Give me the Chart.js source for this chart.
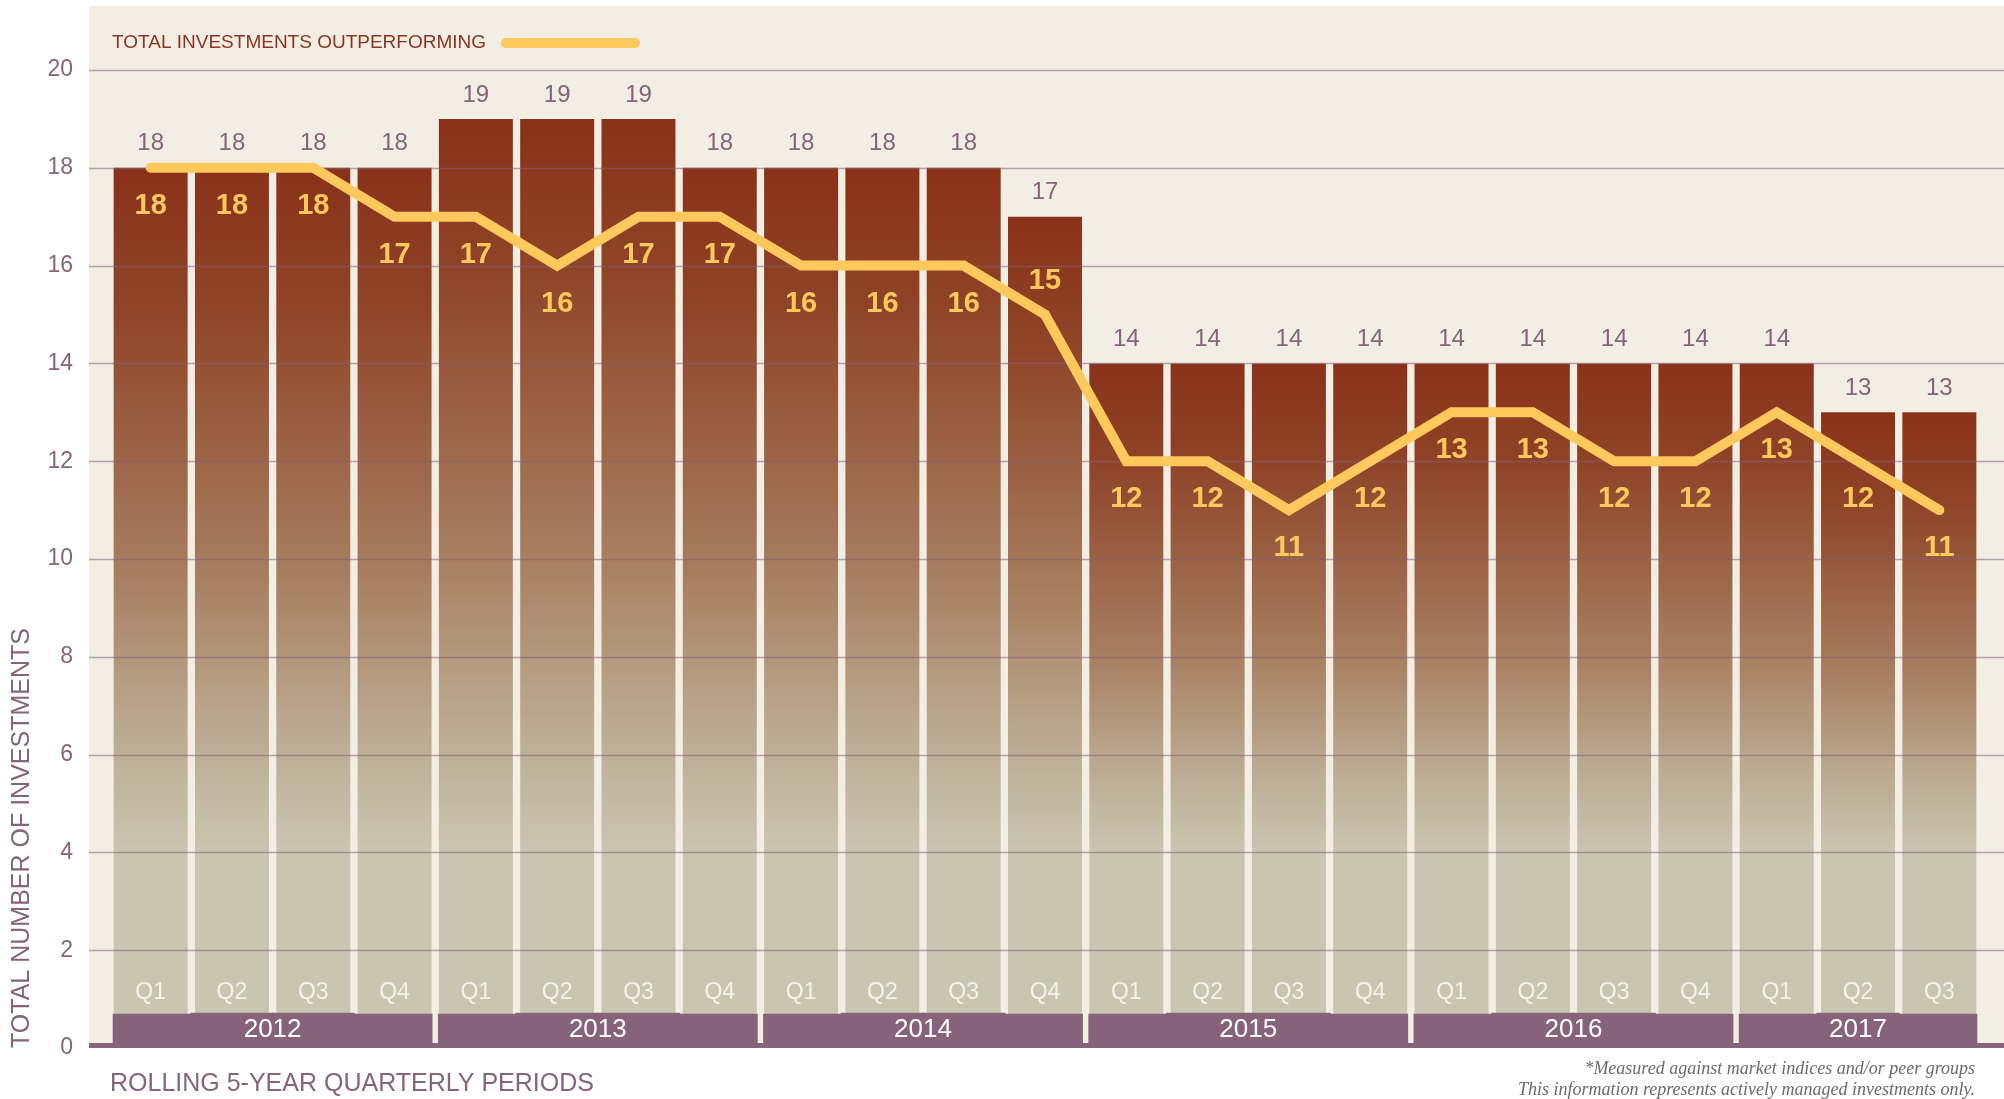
<!DOCTYPE html>
<html>
<head>
<meta charset="utf-8">
<title>Total Investments Outperforming</title>
<script src="https://cdn.jsdelivr.net/npm/chart.js@4.4.1/dist/chart.umd.min.js"></script>
<style>
    html, body { margin: 0; padding: 0; background: #ffffff; }
    #wrap { width: 2004px; height: 1099px; }
</style>
</head>
<body>
<div id="wrap"><canvas id="perfChart" width="2004" height="1099"></canvas></div>
<script>
// Chart data
const quarters = ['Q1', 'Q2', 'Q3', 'Q4', 'Q1', 'Q2', 'Q3', 'Q4', 'Q1', 'Q2', 'Q3', 'Q4',
                  'Q1', 'Q2', 'Q3', 'Q4', 'Q1', 'Q2', 'Q3', 'Q4', 'Q1', 'Q2', 'Q3'];
const years = ['2012', '2013', '2014', '2015', '2016', '2017'];
const quartersPerYear = [4, 4, 4, 4, 4, 3];
const totalInvestments = [18, 18, 18, 18, 19, 19, 19, 18, 18, 18, 18, 17,
                          14, 14, 14, 14, 14, 14, 14, 14, 14, 13, 13];
const outperforming = [18, 18, 18, 17, 17, 16, 17, 17, 16, 16, 16, 15,
                       12, 12, 11, 12, 13, 13, 12, 12, 13, 12, 11];
const yTicks = [0, 2, 4, 6, 8, 10, 12, 14, 16, 18, 20];

// Colours / fonts
const CREAM = '#f3eee4';
const PURPLE = '#86637a';
const LABEL_PURPLE = '#86647c';
const YELLOW = '#fdc95c';
const RUST = '#8b3520';
const FONT = '"Liberation Sans", Arial, sans-serif';
const BAND_TOP = 0.7; // height of the year strip in axis units

// Year strip bars: one floating bar per quarter
const yearBand = quarters.map(() => [0, BAND_TOP]);
const firstOfYear = [];
const lastOfYear = [];
let q = 0;
quartersPerYear.forEach(n => { firstOfYear.push(q); lastOfYear.push(q + n - 1); q += n; });

// Each bar fades from rust at its top to grey-beige near the bottom
function barGradient(ctx) {
    const chart = ctx.chart;
    const y = chart.scales.y;
    if (!y || ctx.type !== 'data' || typeof ctx.raw !== 'number') return '#8a3219';
    const top = y.getPixelForValue(ctx.raw);
    const bottom = y.getPixelForValue(4);
    if (!isFinite(top) || !isFinite(bottom) || bottom <= top) return '#8a3219';
    const g = chart.ctx.createLinearGradient(0, top, 0, bottom);
    g.addColorStop(0, '#8a3219');
    g.addColorStop(0.2, '#8f4327');
    g.addColorStop(0.4, '#9b6143');
    g.addColorStop(0.6, '#a87f61');
    g.addColorStop(0.8, '#b9a68c');
    g.addColorStop(1, '#cac5b1');
    return g;
}

// Cream panel behind the chart
const panelPlugin = {
    id: 'panel',
    beforeDraw(chart) {
        const c = chart.ctx;
        const y = chart.scales.y;
        c.save();
        c.fillStyle = '#ffffff';
        c.fillRect(0, 0, chart.width, chart.height);
        c.fillStyle = CREAM;
        const left = 89;
        c.fillRect(left, 6, chart.width - left, y.getPixelForValue(0) - 6);
        c.restore();
    }
};

// Grid lines over the bars, under the year strip and the line
const gridPlugin = {
    id: 'gridOver',
    afterDatasetDraw(chart, args) {
        if (args.index !== 0) return;
        const c = chart.ctx;
        const y = chart.scales.y;
        c.save();
        yTicks.forEach(v => {
            if (v === 0) return;
            const py = Math.round(y.getPixelForValue(v)) + 0.5;
            c.strokeStyle = 'rgba(135, 95, 120, 0.55)';
            c.lineWidth = 1.5;
            c.beginPath();
            c.moveTo(89, py);
            c.lineTo(chart.width, py);
            c.stroke();
        });
        c.restore();
    }
};

// Value labels, quarter / year labels, axis base line, legend and footnote
const labelPlugin = {
    id: 'labels',
    afterDatasetsDraw(chart) {
        const c = chart.ctx;
        const y = chart.scales.y;
        const bars = chart.getDatasetMeta(0).data;
        const pts = chart.getDatasetMeta(2).data;
        c.save();

        // purple base line along zero
        const p0 = y.getPixelForValue(0);
        c.fillStyle = PURPLE;
        c.fillRect(89, p0 - 5, chart.width - 89, 5);

        c.textAlign = 'center';
        c.textBaseline = 'middle';

        // totals above bars
        c.fillStyle = LABEL_PURPLE;
        c.font = '24px ' + FONT;
        bars.forEach((b, i) => c.fillText(String(totalInvestments[i]), b.x, b.y - 24));

        // outperforming values next to the line
        c.fillStyle = YELLOW;
        c.font = 'bold 29px ' + FONT;
        pts.forEach((p, i) => {
            const next = outperforming[i + 1];
            const above = next !== undefined && outperforming[i] - next >= 2;
            c.fillText(String(outperforming[i]), p.x, above ? p.y - 34 : p.y + 38);
        });

        // quarter labels inside the bars
        const bandTop = y.getPixelForValue(BAND_TOP);
        const bandBottom = y.getPixelForValue(0);
        c.fillStyle = '#f6f2ea';
        c.font = '23px ' + FONT;
        bars.forEach((b, i) => c.fillText(quarters[i], b.x, bandTop - 21));

        // year labels in the strip
        c.fillStyle = '#ffffff';
        c.font = '26px ' + FONT;
        years.forEach((yr, k) => {
            const x = (bars[firstOfYear[k]].x + bars[lastOfYear[k]].x) / 2;
            c.fillText(yr, x, (bandTop + bandBottom) / 2 - 1);
        });

        // legend
        c.textAlign = 'left';
        c.fillStyle = RUST;
        c.font = '19px ' + FONT;
        c.fillText('TOTAL INVESTMENTS OUTPERFORMING', 112, 43);
        c.strokeStyle = YELLOW;
        c.lineWidth = 10;
        c.lineCap = 'round';
        c.beginPath();
        c.moveTo(506, 43);
        c.lineTo(635, 43);
        c.stroke();

        // footnote
        c.textAlign = 'right';
        c.fillStyle = '#6b6b6b';
        c.font = 'italic 18px "Liberation Serif", "DejaVu Serif", serif';
        c.fillText('*Measured against market indices and/or peer groups', 1975, 1069);
        c.fillText('This information represents actively managed investments only.', 1975, 1090);
        c.restore();
    }
};

const ctx = document.getElementById('perfChart').getContext('2d');
const chart = new Chart(ctx, {
    type: 'bar',
    data: {
        labels: quarters,
        datasets: [
            {
                label: 'Total Investments',
                data: totalInvestments,
                backgroundColor: barGradient,
                barPercentage: 0.91,
                categoryPercentage: 1,
                grouped: false,
                order: 2
            },
            {
                label: 'Year',
                data: yearBand,
                backgroundColor: PURPLE,
                borderColor: CREAM,
                borderSkipped: false,
                borderWidth: (c) => ({
                    top: 0,
                    bottom: 0,
                    left: firstOfYear.includes(c.dataIndex) ? 3.7 : 0,
                    right: lastOfYear.includes(c.dataIndex) ? 3.7 : 0
                }),
                inflateAmount: 1,
                barPercentage: 1,
                categoryPercentage: 1,
                grouped: false,
                order: 1
            },
            {
                type: 'line',
                label: 'Total Investments Outperforming',
                data: outperforming,
                borderColor: YELLOW,
                borderWidth: 10,
                borderCapStyle: 'round',
                pointRadius: 0,
                tension: 0,
                fill: false,
                order: 0
            }
        ]
    },
    options: {
        responsive: false,
        animation: false,
        layout: { padding: { top: 70, right: 24, left: 0, bottom: 0 } },
        plugins: {
            legend: { display: false },
            tooltip: { enabled: false }
        },
        scales: {
            x: {
                offset: true,
                grid: { display: false, drawTicks: false },
                border: { display: false },
                ticks: { display: false },
                title: {
                    display: true,
                    text: 'ROLLING 5-YEAR QUARTERLY PERIODS',
                    align: 'start',
                    color: LABEL_PURPLE,
                    font: { family: FONT, size: 25 },
                    padding: { top: 0, bottom: 0 }
                },
                afterFit(scale) { scale.height = 51; }
            },
            y: {
                min: 0,
                max: 20,
                grid: { display: false, drawTicks: false },
                border: { display: false },
                afterBuildTicks(scale) { scale.ticks = yTicks.map(v => ({ value: v })); },
                ticks: {
                    padding: 37,
                    color: LABEL_PURPLE,
                    font: { family: FONT, size: 23 }
                },
                title: {
                    display: true,
                    text: 'TOTAL NUMBER OF INVESTMENTS',
                    align: 'start',
                    color: LABEL_PURPLE,
                    font: { family: FONT, size: 25 },
                    padding: { top: 7, bottom: 0 }
                },
                afterFit(scale) { scale.width = 110; }
            }
        }
    },
    plugins: [panelPlugin, gridPlugin, labelPlugin]
});
</script>
</body>
</html>
